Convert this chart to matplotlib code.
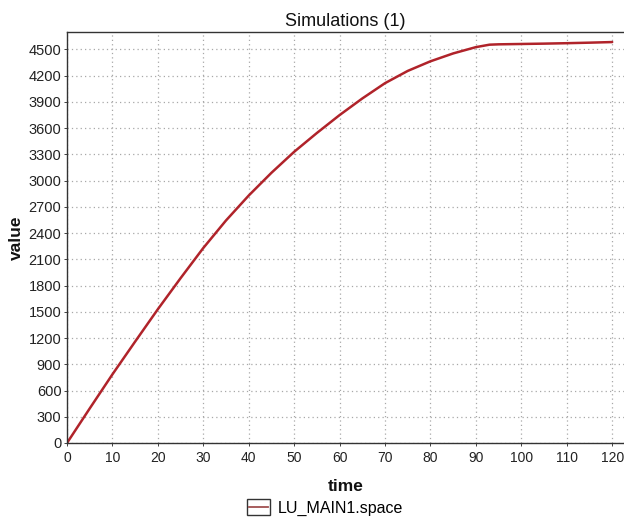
import matplotlib
matplotlib.use("Agg")
import matplotlib.pyplot as plt
from matplotlib.patches import Rectangle
from matplotlib.lines import Line2D
from matplotlib.legend_handler import HandlerBase

# Data
time = [0, 5, 10, 15, 20, 25, 30, 35, 40, 45, 50, 55, 60, 65, 70, 75, 80,
        85, 90, 93, 95, 100, 105, 110, 115, 120]
space = [0, 395, 785, 1160, 1530, 1885, 2230, 2545, 2830, 3090, 3330, 3545,
         3750, 3940, 4115, 4255, 4365, 4455, 4527, 4555, 4559, 4563, 4567,
         4572, 4578, 4585]
x_ticks = list(range(0, 121, 10))
y_ticks = list(range(0, 4501, 300))
series_name = "LU_MAIN1.space"
title = "Simulations (1)"

plt.rcParams['font.family'] = ['Liberation Sans', 'DejaVu Sans']


class BoxLineHandler(HandlerBase):
    def create_artists(self, legend, orig_handle, xdescent, ydescent,
                       width, height, fontsize, trans):
        rect = Rectangle((-xdescent, -ydescent - 1.5), width, height + 3,
                         facecolor='white', edgecolor='#333333',
                         linewidth=1.0, transform=trans)
        mid = -ydescent + height / 2
        ln = Line2D([-xdescent + 1, -xdescent + width - 1], [mid, mid],
                    color='#a05050', linewidth=1.3, transform=trans)
        return [rect, ln]


fig = plt.figure(figsize=(6.24, 5.18), dpi=100)
ax = fig.add_axes([67/624, (518-443)/518, (624-67)/624, (443-32)/518])

line_color = '#b0232a'
ax.plot(time, space, color=line_color, linewidth=1.8, solid_capstyle='round',
        solid_joinstyle='round')

ax.set_xlim(0, 122.6)
ax.set_ylim(0, 4700)
ax.set_xticks(x_ticks)
ax.set_yticks(y_ticks)
ax.tick_params(axis='both', labelsize=10.5, length=2, width=0.6,
               colors='#222222', pad=2)
ax.tick_params(axis='x', pad=4, labelsize=10)
ax.grid(True, linestyle=(0, (1, 2.5)), color='#a8a8a8', linewidth=0.9)

ax.spines['right'].set_visible(False)
for side in ['left', 'bottom', 'top']:
    ax.spines[side].set_color('#333333')
    ax.spines[side].set_linewidth(1.0)

ax.set_title(title, fontsize=13, color='#111111', pad=4)
ax.set_xlabel('time', fontsize=12.5, fontweight='bold', color='#111111', labelpad=10)
ax.set_ylabel('value', fontsize=12.5, fontweight='bold', color='#111111', labelpad=3)

fig.legend(handles=[object()], labels=[series_name],
           handler_map={object: BoxLineHandler()},
           loc='center', bbox_to_anchor=(325/624, 1 - 508/518),
           frameon=False, fontsize=11.5, handlelength=1.4, handleheight=0.8,
           handletextpad=0.5)

fig.savefig('out.png', dpi=100)
